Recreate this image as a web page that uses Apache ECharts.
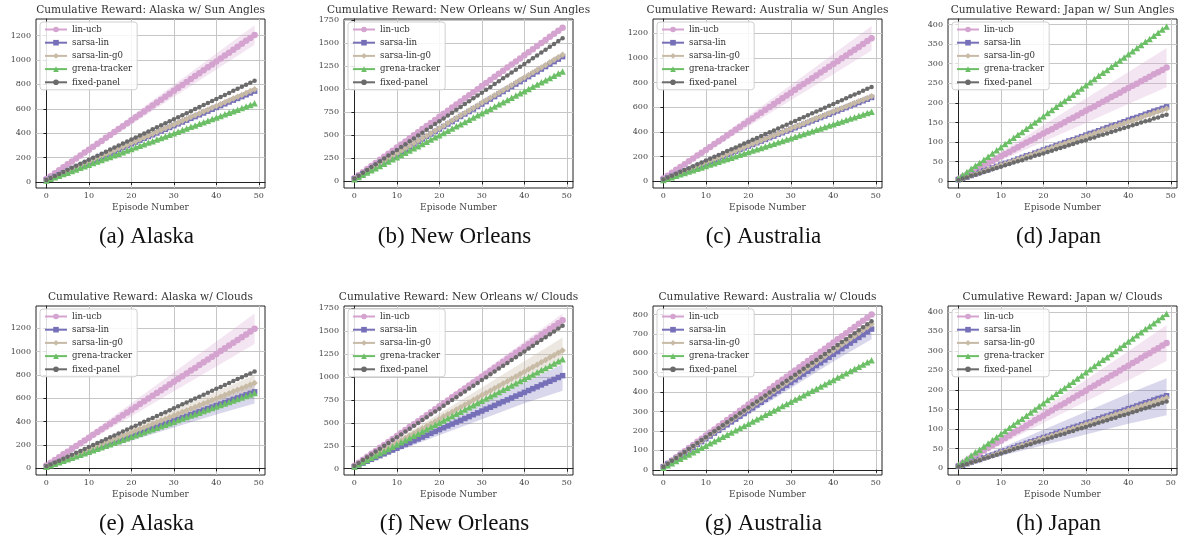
<!DOCTYPE html>
<html>
<head>
<meta charset="utf-8">
<script src="https://cdn.jsdelivr.net/npm/echarts@6/dist/echarts.min.js"></script>
<style>
  html, body { margin: 0; padding: 0; background: #fff; }
  #main { width: 1179px; height: 537px; }
</style>
</head>
<body>
<div id="main"></div>
<script>
// episodes 0..49
var episodes = [0,1,2,3,4,5,6,7,8,9,10,11,12,13,14,15,16,17,18,19,20,21,22,23,24,25,26,27,28,29,30,31,32,33,34,35,36,37,38,39,40,41,42,43,44,45,46,47,48,49];
var bandEpisodes = [0, 10, 20, 30, 40, 49];
var xTicks = [0, 10, 20, 30, 40, 50];
var seriesNames = ['lin-ucb', 'sarsa-lin', 'sarsa-lin-g0', 'grena-tracker', 'fixed-panel'];

// (a) Alaska w/ Sun Angles
var alaskaSunTicks = [0, 200, 400, 600, 800, 1000, 1200];
var alaskaSunLinUcb = [24,48,72,96,121,145,169,193,217,241,265,289,313,337,362,386,410,434,458,482,506,530,554,578,603,627,651,675,699,723,747,771,795,819,844,868,892,916,940,964,988,1012,1036,1060,1085,1109,1133,1157,1181,1205];
var alaskaSunSarsaLin = [15,30,45,60,75,89,104,119,134,149,164,179,194,209,224,238,253,268,283,298,313,328,343,358,373,387,402,417,432,447,462,477,492,507,522,536,551,566,581,596,611,626,641,656,671,685,700,715,730,745];
var alaskaSunSarsaG0 = [15,30,46,61,76,91,106,122,137,152,167,182,198,213,228,243,258,274,289,304,319,334,350,365,380,395,410,426,441,456,471,486,502,517,532,547,562,578,593,608,623,638,654,669,684,699,714,730,745,760];
var alaskaSunGrena = [13,26,39,52,65,77,90,103,116,129,142,155,168,181,194,206,219,232,245,258,271,284,297,310,323,335,348,361,374,387,400,413,426,439,452,464,477,490,503,516,529,542,555,568,581,593,606,619,632,645];
var alaskaSunFixed = [17,33,50,66,83,100,116,133,149,166,183,199,216,232,249,266,282,299,315,332,349,365,382,398,415,432,448,465,481,498,515,531,548,564,581,598,614,631,647,664,681,697,714,730,747,764,780,797,813,830];
var alaskaSunLinUcbLo = [22,247,472,697,922,1125];
var alaskaSunLinUcbHi = [26,283,540,797,1054,1285];
var alaskaSunG0Lo = [14,163,312,461,610,744];
var alaskaSunG0Hi = [16,171,326,481,636,776];

// (b) New Orleans w/ Sun Angles
var newOrleansSunTicks = [0, 250, 500, 750, 1000, 1250, 1500, 1750];
var newOrleansSunLinUcb = [33,67,100,134,167,200,234,267,301,334,367,401,434,468,501,534,568,601,635,668,701,735,768,802,835,868,902,935,969,1002,1035,1069,1102,1136,1169,1202,1236,1269,1303,1336,1369,1403,1436,1470,1503,1536,1570,1603,1637,1670];
var newOrleansSunSarsaLin = [27,54,81,108,136,163,190,217,244,271,298,325,352,379,407,434,461,488,515,542,569,596,623,650,678,705,732,759,786,813,840,867,894,921,949,976,1003,1030,1057,1084,1111,1138,1165,1192,1220,1247,1274,1301,1328,1355];
var newOrleansSunSarsaG0 = [28,55,83,110,138,165,193,220,248,275,303,330,358,385,413,440,468,495,523,550,578,605,633,660,688,715,743,770,798,825,853,880,908,935,963,990,1018,1045,1073,1100,1128,1155,1183,1210,1238,1265,1293,1320,1348,1375];
var newOrleansSunGrena = [24,48,72,96,120,143,167,191,215,239,263,287,311,335,359,382,406,430,454,478,502,526,550,574,598,621,645,669,693,717,741,765,789,813,837,860,884,908,932,956,980,1004,1028,1052,1076,1099,1123,1147,1171,1195];
var newOrleansSunFixed = [31,62,93,124,156,187,218,249,280,311,342,373,404,435,467,498,529,560,591,622,653,684,715,746,778,809,840,871,902,933,964,995,1026,1057,1089,1120,1151,1182,1213,1244,1275,1306,1337,1368,1400,1431,1462,1493,1524,1555];
var newOrleansSunLinUcbLo = [32,362,692,1022,1352,1650];
var newOrleansSunLinUcbHi = [34,372,710,1048,1386,1690];

// (c) Australia w/ Sun Angles
var australiaSunTicks = [0, 200, 400, 600, 800, 1000, 1200];
var australiaSunLinUcb = [23,46,70,93,116,139,162,186,209,232,255,278,302,325,348,371,394,418,441,464,487,510,534,557,580,603,626,650,673,696,719,742,766,789,812,835,858,882,905,928,951,974,998,1021,1044,1067,1090,1114,1137,1160];
var australiaSunSarsaLin = [14,27,41,54,68,82,95,109,122,136,150,163,177,190,204,218,231,245,258,272,286,299,313,326,340,354,367,381,394,408,422,435,449,462,476,490,503,517,530,544,558,571,585,598,612,626,639,653,666,680];
var australiaSunSarsaG0 = [14,28,41,55,69,83,97,110,124,138,152,166,179,193,207,221,235,248,262,276,290,304,317,331,345,359,373,386,400,414,428,442,455,469,483,497,511,524,538,552,566,580,593,607,621,635,649,662,676,690];
var australiaSunGrena = [11,23,34,45,57,68,79,90,102,113,124,136,147,158,170,181,192,203,215,226,237,249,260,271,283,294,305,316,328,339,350,362,373,384,396,407,418,429,441,452,463,475,486,497,509,520,531,542,554,565];
var australiaSunFixed = [15,31,46,61,77,92,107,122,138,153,168,184,199,214,230,245,260,275,291,306,321,337,352,367,383,398,413,428,444,459,474,490,505,520,536,551,566,581,597,612,627,643,658,673,689,704,719,734,750,765];
var australiaSunLinUcbLo = [21,233,445,657,869,1060];
var australiaSunLinUcbHi = [25,277,529,781,1033,1260];
var australiaSunG0Lo = [13,149,284,419,554,676];
var australiaSunG0Hi = [15,155,296,437,578,704];

// (d) Japan w/ Sun Angles
var japanSunTicks = [0, 50, 100, 150, 200, 250, 300, 350, 400];
var japanSunLinUcb = [6,12,17,23,29,35,41,46,52,58,64,70,75,81,87,93,99,104,110,116,122,128,133,139,145,151,157,162,168,174,180,186,191,197,203,209,215,220,226,232,238,244,249,255,261,267,273,278,284,290];
var japanSunSarsaLin = [4,8,11,15,19,23,27,30,34,38,42,46,49,53,57,61,65,68,72,76,80,84,87,91,95,99,103,106,110,114,118,122,125,129,133,137,141,144,148,152,156,160,163,167,171,175,179,182,186,190];
var japanSunSarsaG0 = [4,7,11,15,19,22,26,30,33,37,41,44,48,52,56,59,63,67,70,74,78,81,85,89,93,96,100,104,107,111,115,118,122,126,130,133,137,141,144,148,152,155,159,163,167,170,174,178,181,185];
var japanSunGrena = [8,16,24,32,40,47,55,63,71,79,87,95,103,111,119,126,134,142,150,158,166,174,182,190,198,205,213,221,229,237,245,253,261,269,277,284,292,300,308,316,324,332,340,348,356,363,371,379,387,395];
var japanSunFixed = [3,7,10,14,17,20,24,27,31,34,37,41,44,48,51,54,58,61,65,68,71,75,78,82,85,88,92,95,99,102,105,109,112,116,119,122,126,129,133,136,139,143,146,150,153,156,160,163,167,170];
var japanSunLinUcbLo = [5,53,101,149,197,240];
var japanSunLinUcbHi = [7,75,143,211,279,340];
var japanSunSarsaLinLo = [4,40,77,113,150,183];
var japanSunSarsaLinHi = [4,44,83,123,162,197];

// (e) Alaska w/ Clouds
var alaskaCloudTicks = [0, 200, 400, 600, 800, 1000, 1200];
var alaskaCloudLinUcb = [24,48,72,96,120,143,167,191,215,239,263,287,311,335,359,382,406,430,454,478,502,526,550,574,598,621,645,669,693,717,741,765,789,813,837,860,884,908,932,956,980,1004,1028,1052,1076,1099,1123,1147,1171,1195];
var alaskaCloudSarsaLin = [13,26,39,52,66,79,92,105,118,131,144,157,170,183,197,210,223,236,249,262,275,288,301,314,328,341,354,367,380,393,406,419,432,445,459,472,485,498,511,524,537,550,563,576,590,603,616,629,642,655];
var alaskaCloudSarsaG0 = [15,29,44,58,73,88,102,117,131,146,161,175,190,204,219,234,248,263,277,292,307,321,336,350,365,380,394,409,423,438,453,467,482,496,511,526,540,555,569,584,599,613,628,642,657,672,686,701,715,730];
var alaskaCloudGrena = [13,26,39,52,65,77,90,103,116,129,142,155,168,181,194,206,219,232,245,258,271,284,297,310,323,335,348,361,374,387,400,413,426,439,452,464,477,490,503,516,529,542,555,568,581,593,606,619,632,645];
var alaskaCloudFixed = [17,33,50,66,83,100,116,133,149,166,183,199,216,232,249,266,282,299,315,332,349,365,382,398,415,432,448,465,481,498,515,531,548,564,581,598,614,631,647,664,681,697,714,730,747,764,780,797,813,830];
var alaskaCloudLinUcbLo = [21,234,447,660,873,1065];
var alaskaCloudLinUcbHi = [27,292,557,822,1087,1325];
var alaskaCloudSarsaLinLo = [11,123,236,349,462,555];
var alaskaCloudSarsaLinHi = [15,158,300,443,585,715];
var alaskaCloudG0Lo = [14,146,277,409,541,660];
var alaskaCloudG0Hi = [16,176,337,497,657,800];

// (f) New Orleans w/ Clouds
var newOrleansCloudTicks = [0, 250, 500, 750, 1000, 1250, 1500, 1750];
var newOrleansCloudLinUcb = [32,65,97,130,162,194,227,259,292,324,356,389,421,454,486,518,551,583,616,648,680,713,745,778,810,842,875,907,940,972,1004,1037,1069,1102,1134,1166,1199,1231,1264,1296,1328,1361,1393,1426,1458,1490,1523,1555,1588,1620];
var newOrleansCloudSarsaLin = [20,41,61,81,102,122,142,162,183,203,223,244,264,284,305,325,345,365,386,406,426,447,467,487,508,528,548,568,589,609,629,650,670,690,711,731,751,771,792,812,832,853,873,893,914,934,954,974,995,1015];
var newOrleansCloudSarsaG0 = [26,52,77,103,129,155,181,206,232,258,284,310,335,361,387,413,439,464,490,516,542,568,593,619,645,671,697,722,748,774,800,826,851,877,903,929,955,980,1006,1032,1058,1084,1109,1135,1161,1187,1213,1238,1264,1290];
var newOrleansCloudGrena = [24,48,72,96,120,143,167,191,215,239,263,287,311,335,359,382,406,430,454,478,502,526,550,574,598,621,645,669,693,717,741,765,789,813,837,860,884,908,932,956,980,1004,1028,1052,1076,1099,1123,1147,1171,1195];
var newOrleansCloudFixed = [31,62,94,125,156,187,218,250,281,312,343,374,406,437,468,499,530,562,593,624,655,686,718,749,780,811,842,874,905,936,967,998,1030,1061,1092,1123,1154,1186,1217,1248,1279,1310,1342,1373,1404,1435,1466,1498,1529,1560];
var newOrleansCloudLinUcbLo = [31,340,649,959,1269,1548];
var newOrleansCloudLinUcbHi = [33,372,711,1049,1387,1692];
var newOrleansCloudSarsaLinLo = [17,191,365,539,713,850];
var newOrleansCloudSarsaLinHi = [23,253,483,713,943,1140];
var newOrleansCloudG0Lo = [23,253,483,713,943,1150];
var newOrleansCloudG0Hi = [29,315,601,887,1173,1430];

// (g) Australia w/ Clouds
var australiaCloudTicks = [0, 100, 200, 300, 400, 500, 600, 700, 800];
var australiaCloudLinUcb = [16,32,48,64,80,96,112,128,144,160,176,192,208,224,240,256,272,288,304,320,336,352,368,384,400,416,432,448,464,480,496,512,528,544,560,576,592,608,624,640,656,672,688,704,720,736,752,768,784,800];
var australiaCloudSarsaLin = [15,29,44,58,73,87,102,116,131,145,160,174,189,203,218,232,247,261,276,290,305,319,334,348,363,377,392,406,421,435,450,464,479,493,508,522,537,551,566,580,595,609,624,638,653,667,682,696,711,725];
var australiaCloudSarsaG0 = [15,30,45,60,75,90,105,120,135,150,165,180,195,210,225,240,255,270,285,300,315,330,345,360,375,390,405,420,435,450,465,480,495,510,525,540,555,570,585,600,615,630,645,660,675,690,705,720,735,750];
var australiaCloudGrena = [11,23,34,45,57,68,79,90,102,113,124,136,147,158,170,181,192,203,215,226,237,249,260,271,283,294,305,316,328,339,350,362,373,384,396,407,418,429,441,452,463,475,486,497,509,520,531,542,554,565];
var australiaCloudFixed = [15,31,46,61,77,92,107,122,138,153,168,184,199,214,230,245,260,275,291,306,321,337,352,367,383,398,413,428,444,459,474,490,505,520,536,551,566,581,597,612,627,643,658,673,689,704,719,734,750,765];
var australiaCloudLinUcbLo = [16,173,331,489,647,789];
var australiaCloudLinUcbHi = [16,179,341,503,665,811];
var australiaCloudSarsaLinLo = [14,150,285,420,558,672];
var australiaCloudSarsaLinHi = [16,166,316,466,616,740];

// (h) Japan w/ Clouds
var japanCloudTicks = [0, 50, 100, 150, 200, 250, 300, 350, 400];
var japanCloudLinUcb = [6,13,19,26,32,38,45,51,58,64,70,77,83,90,96,102,109,115,122,128,134,141,147,154,160,166,173,179,186,192,198,205,211,218,224,230,237,243,250,256,262,269,275,282,288,294,301,307,314,320];
var japanCloudSarsaLin = [4,7,11,15,19,22,26,30,33,37,41,44,48,52,56,59,63,67,70,74,78,81,85,89,93,96,100,104,107,111,115,118,122,126,130,133,137,141,144,148,152,155,159,163,167,170,174,178,181,185];
var japanCloudSarsaG0 = [4,7,11,14,18,22,25,29,32,36,40,43,47,50,54,58,61,65,68,72,76,79,83,86,90,94,97,101,104,108,112,115,119,122,126,130,133,137,140,144,148,151,155,158,162,166,169,173,176,180];
var japanCloudGrena = [8,16,24,32,40,47,55,63,71,79,87,95,103,111,119,126,134,142,150,158,166,174,182,190,198,205,213,221,229,237,245,253,261,269,277,284,292,300,308,316,324,332,340,348,356,363,371,379,387,395];
var japanCloudFixed = [3,7,10,14,17,20,24,27,31,34,37,41,44,48,51,54,58,61,65,68,71,75,78,82,85,88,92,95,99,102,105,109,112,116,119,122,126,129,133,136,139,143,146,150,153,156,160,163,167,170];
var japanCloudLinUcbLo = [5,60,115,170,225,274];
var japanCloudLinUcbHi = [7,80,153,226,299,366];
var japanCloudSarsaLinLo = [3,31,58,86,113,135];
var japanCloudSarsaLinHi = [5,51,98,144,191,230];
var japanCloudG0Lo = [4,38,72,106,140,170];
var japanCloudG0Hi = [4,42,80,118,156,190];

var panels = [
  { title: 'Cumulative Reward: Alaska w/ Sun Angles', caption: '(a) Alaska', ticks: alaskaSunTicks,
    lines: [alaskaSunLinUcb, alaskaSunSarsaLin, alaskaSunSarsaG0, alaskaSunGrena, alaskaSunFixed],
    bands: [[0, alaskaSunLinUcbLo, alaskaSunLinUcbHi], [2, alaskaSunG0Lo, alaskaSunG0Hi]] },
  { title: 'Cumulative Reward: New Orleans w/ Sun Angles', caption: '(b) New Orleans', ticks: newOrleansSunTicks,
    lines: [newOrleansSunLinUcb, newOrleansSunSarsaLin, newOrleansSunSarsaG0, newOrleansSunGrena, newOrleansSunFixed],
    bands: [[0, newOrleansSunLinUcbLo, newOrleansSunLinUcbHi]] },
  { title: 'Cumulative Reward: Australia w/ Sun Angles', caption: '(c) Australia', ticks: australiaSunTicks,
    lines: [australiaSunLinUcb, australiaSunSarsaLin, australiaSunSarsaG0, australiaSunGrena, australiaSunFixed],
    bands: [[0, australiaSunLinUcbLo, australiaSunLinUcbHi], [2, australiaSunG0Lo, australiaSunG0Hi]] },
  { title: 'Cumulative Reward: Japan w/ Sun Angles', caption: '(d) Japan', ticks: japanSunTicks,
    lines: [japanSunLinUcb, japanSunSarsaLin, japanSunSarsaG0, japanSunGrena, japanSunFixed],
    bands: [[0, japanSunLinUcbLo, japanSunLinUcbHi], [1, japanSunSarsaLinLo, japanSunSarsaLinHi]] },
  { title: 'Cumulative Reward: Alaska w/ Clouds', caption: '(e) Alaska', ticks: alaskaCloudTicks,
    lines: [alaskaCloudLinUcb, alaskaCloudSarsaLin, alaskaCloudSarsaG0, alaskaCloudGrena, alaskaCloudFixed],
    bands: [[0, alaskaCloudLinUcbLo, alaskaCloudLinUcbHi], [1, alaskaCloudSarsaLinLo, alaskaCloudSarsaLinHi], [2, alaskaCloudG0Lo, alaskaCloudG0Hi]] },
  { title: 'Cumulative Reward: New Orleans w/ Clouds', caption: '(f) New Orleans', ticks: newOrleansCloudTicks,
    lines: [newOrleansCloudLinUcb, newOrleansCloudSarsaLin, newOrleansCloudSarsaG0, newOrleansCloudGrena, newOrleansCloudFixed],
    bands: [[0, newOrleansCloudLinUcbLo, newOrleansCloudLinUcbHi], [1, newOrleansCloudSarsaLinLo, newOrleansCloudSarsaLinHi], [2, newOrleansCloudG0Lo, newOrleansCloudG0Hi]] },
  { title: 'Cumulative Reward: Australia w/ Clouds', caption: '(g) Australia', ticks: australiaCloudTicks,
    lines: [australiaCloudLinUcb, australiaCloudSarsaLin, australiaCloudSarsaG0, australiaCloudGrena, australiaCloudFixed],
    bands: [[0, australiaCloudLinUcbLo, australiaCloudLinUcbHi], [1, australiaCloudSarsaLinLo, australiaCloudSarsaLinHi]] },
  { title: 'Cumulative Reward: Japan w/ Clouds', caption: '(h) Japan', ticks: japanCloudTicks,
    lines: [japanCloudLinUcb, japanCloudSarsaLin, japanCloudSarsaG0, japanCloudGrena, japanCloudFixed],
    bands: [[0, japanCloudLinUcbLo, japanCloudLinUcbHi], [1, japanCloudSarsaLinLo, japanCloudSarsaLinHi], [2, japanCloudG0Lo, japanCloudG0Hi]] }
];

// layout + styles
var yRanges = [[-49, 1336], [-72, 1764], [-54, 1316], [-17, 414], [-57, 1390], [-69, 1775], [-27, 844], [-18, 415]];
var gridLefts = [36, 344, 653, 948];
var gridTops = [19, 306];
var gridW = 229, gridH = 169;
var colors = ['#d4a3cf', '#7670b8', '#c8bba6', '#6cbf66', '#6b6b6b'];
var bandColors = ['rgba(214,160,209,0.28)', 'rgba(118,112,184,0.28)', 'rgba(200,187,166,0.35)'];
var symbols = ['circle', 'rect', 'diamond', 'triangle', 'circle'];
var symbolSizes = [6.5, 5.5, 6.5, 6.5, 4.5];
var serif = 'DejaVu Serif';

var chart = echarts.init(document.getElementById('main'));
var option = { animation: false, backgroundColor: '#fff', title: [], legend: [], grid: [], xAxis: [], yAxis: [], series: [] };

function plainLabel(v) { return String(v); }

panels.forEach(function (p, k) {
  var col = k % 4, row = Math.floor(k / 4);
  var left = gridLefts[col], top = gridTops[row];
  var cx = left + gridW / 2;

  option.grid.push({ left: left, top: top, width: gridW, height: gridH, show: true,
    borderColor: '#222', borderWidth: 1, backgroundColor: '#fff' });

  option.xAxis.push({
    gridIndex: k, type: 'value', min: -2.45, max: 51.45,
    name: 'Episode Number', nameLocation: 'middle', nameGap: 15,
    nameTextStyle: { fontFamily: serif, fontSize: 9, color: '#444' },
    axisLine: { show: true, lineStyle: { color: '#222', width: 1 } },
    axisTick: { show: true, length: 3, customValues: xTicks, lineStyle: { color: '#222' } },
    axisLabel: { customValues: xTicks, formatter: plainLabel, fontFamily: serif, fontSize: 8, color: '#444', margin: 4 },
    splitLine: { show: true, lineStyle: { color: '#c6c6c6', width: 1 } }
  });
  option.yAxis.push({
    gridIndex: k, type: 'value', min: yRanges[k][0], max: yRanges[k][1],
    axisLine: { show: true, lineStyle: { color: '#222', width: 1 } },
    axisTick: { show: true, length: 3, customValues: p.ticks, lineStyle: { color: '#222' } },
    axisLabel: { customValues: p.ticks, formatter: plainLabel, fontFamily: serif, fontSize: 8, color: '#444', margin: 5 },
    splitLine: { show: true, lineStyle: { color: '#c6c6c6', width: 1 } }
  });

  option.title.push({ text: p.title, left: cx, top: top - 14, textAlign: 'center', padding: 0,
    textStyle: { fontFamily: serif, fontSize: 10.6, fontWeight: 'normal', color: '#333' } });
  option.title.push({ text: p.caption, left: cx - 4, top: top + 206, textAlign: 'center', padding: 0,
    textStyle: { fontFamily: 'Liberation Serif', fontSize: 23, fontWeight: 'normal', color: '#111' } });

  option.legend.push({
    data: seriesNames, orient: 'vertical', left: left + 4, top: top + 3,
    itemWidth: 22, itemHeight: 7, itemGap: 4.2, padding: [3, 5, 3, 4],
    backgroundColor: 'rgba(255,255,255,0.85)', borderColor: '#d0d0d0', borderWidth: 1, borderRadius: 3,
    textStyle: { fontFamily: serif, fontSize: 8.6, color: '#333' }
  });

  // confidence bands as polygons through the band rows
  p.bands.forEach(function (b) {
    var idx = b[0], lo = b[1], hi = b[2];
    option.series.push({
      type: 'custom', xAxisIndex: k, yAxisIndex: k, silent: true, z: 1,
      data: bandEpisodes.map(function (e, i) { return [e, lo[i], hi[i]]; }),
      encode: { x: 0, y: [1, 2] },
      renderItem: function (params, api) {
        if (params.dataIndex !== 0) return;
        var pts = [];
        for (var i = 0; i < bandEpisodes.length; i++) pts.push(api.coord([bandEpisodes[i], hi[i]]));
        for (var j = bandEpisodes.length - 1; j >= 0; j--) pts.push(api.coord([bandEpisodes[j], lo[j]]));
        return { type: 'polygon', shape: { points: pts }, style: { fill: bandColors[idx] } };
      }
    });
  });

  p.lines.forEach(function (vals, s) {
    option.series.push({
      name: seriesNames[s], type: 'line', xAxisIndex: k, yAxisIndex: k, z: 2,
      symbol: symbols[s], symbolSize: symbolSizes[s], showSymbol: true,
      lineStyle: { color: colors[s], width: 1.4 },
      itemStyle: { color: colors[s] },
      data: episodes.map(function (e, i) { return [e, vals[i]]; })
    });
  });
});

chart.setOption(option);
</script>
</body>
</html>
